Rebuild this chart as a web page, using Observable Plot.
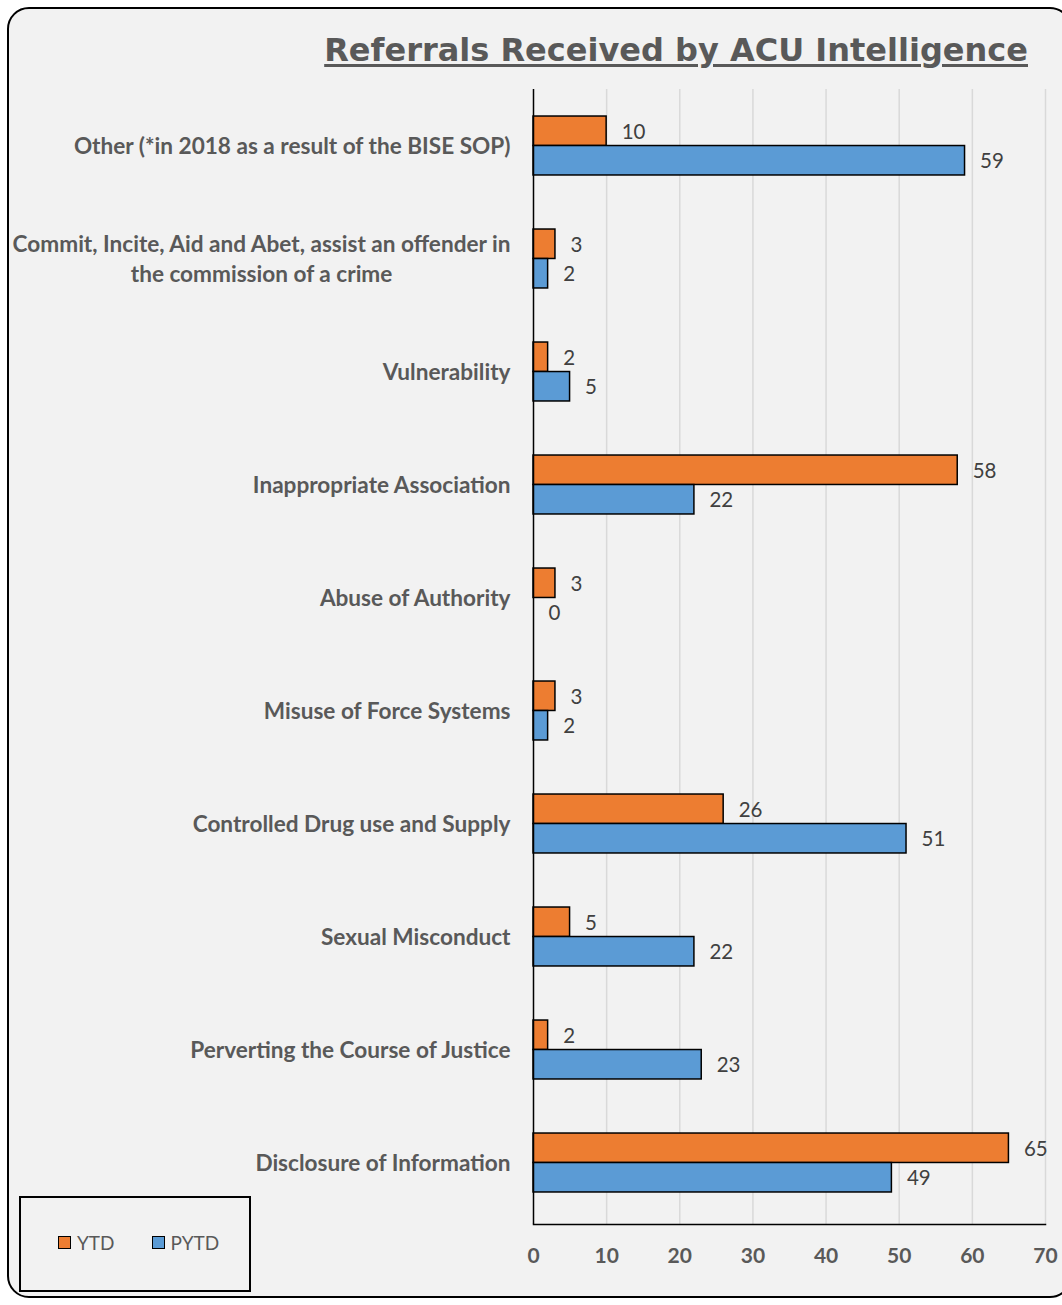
<!DOCTYPE html>
<html>
<head>
<meta charset="utf-8">
<script src="https://cdn.jsdelivr.net/npm/d3@7"></script>
<script src="https://cdn.jsdelivr.net/npm/@observablehq/plot@0.6"></script>
<style>
  html, body { margin: 0; padding: 0; background: #ffffff; }
  #page { position: relative; width: 1062px; height: 1305px; overflow: hidden; background: #ffffff; }
  #panel {
    position: absolute; left: 7px; top: 7px; width: 1065px; height: 1291px;
    box-sizing: border-box; border: 2px solid #000; border-radius: 22px; background: #f2f2f2;
  }
  #title {
    position: absolute; right: 34px; top: 34px;
    font-family: "DejaVu Sans", Verdana, sans-serif; font-weight: bold; font-size: 32px;
    color: #595959; text-decoration: underline; text-decoration-thickness: 3px; text-underline-offset: 3px;
    white-space: nowrap; line-height: 1;
  }
  #chart { position: absolute; left: 0; top: 0; }
  #legend {
    position: absolute; left: 19px; top: 1196px; width: 232px; height: 96px;
    box-sizing: border-box; border: 2px solid #000; background: #f2f2f2;
    display: flex; align-items: center; padding-left: 37px; padding-bottom: 3px;
    font-family: Lato, "Open Sans", sans-serif; font-size: 19px; color: #595959;
  }
  .item { display: flex; align-items: center; margin-right: 37px; }
  .swatch { width: 11px; height: 11px; border: 1.5px solid #000; margin-right: 6px; }
</style>
</head>
<body>
<div id="page">
  <div id="panel"></div>
  <div id="title">Referrals Received by ACU Intelligence</div>
  <div id="chart"></div>
  <div id="legend"></div>
</div>
<script>
// Referral categories, top to bottom
const categories = [
  "Other (*in 2018 as a result of the BISE SOP)",
  "Commit, Incite, Aid and Abet, assist an offender in\nthe commission of a crime",
  "Vulnerability",
  "Inappropriate Association",
  "Abuse of Authority",
  "Misuse of Force Systems",
  "Controlled Drug use and Supply",
  "Sexual Misconduct",
  "Perverting the Course of Justice",
  "Disclosure of Information"
];
// Year to date and previous year to date counts
const ytd  = [10, 3, 2, 58, 3, 3, 26, 5, 2, 65];
const pytd = [59, 2, 5, 22, 0, 2, 51, 22, 23, 49];
const seriesNames = ["YTD", "PYTD"];
const seriesColors = ["#ED7D31", "#5B9BD5"];
const xTicks = [0, 10, 20, 30, 40, 50, 60, 70];

const ytdRows = categories.map((c, i) => ({category: c, series: seriesNames[0], value: ytd[i]}));
const pytdRows = categories.map((c, i) => ({category: c, series: seriesNames[1], value: pytd[i]}));

const W = 1062, H = 1300;
const mTop = 89, mBottom = 76, mLeft = 533, mRight = 17;
const yInsetTop = 0, yInsetBottom = 4.5;
const band = (H - mTop - mBottom - yInsetTop - yInsetBottom) / categories.length;
const barH = 29.5;
const halfGap = band / 2 - barH;

const labelFont = "Lato, 'Open Sans', sans-serif";

const chart = Plot.plot({
  width: W,
  height: H,
  marginTop: mTop,
  marginBottom: mBottom,
  marginLeft: mLeft,
  marginRight: mRight,
  style: {background: "transparent", fontFamily: labelFont, overflow: "visible"},
  x: {domain: [0, 70], ticks: xTicks},
  y: {domain: categories, padding: 0, insetTop: yInsetTop, insetBottom: yInsetBottom},
  marks: [
    Plot.gridX(xTicks.filter(t => t > 0), {stroke: "#d9d9d9", strokeOpacity: 1, strokeWidth: 1.5}),
    Plot.barX(ytdRows, {
      x: "value", y: "category", fill: seriesColors[0],
      stroke: "#000", strokeWidth: 1.5,
      insetTop: halfGap, insetBottom: band / 2
    }),
    Plot.barX(pytdRows.filter(d => d.value > 0), {
      x: "value", y: "category", fill: seriesColors[1],
      stroke: "#000", strokeWidth: 1.5,
      insetTop: band / 2, insetBottom: halfGap
    }),
    Plot.text(ytdRows, {
      x: "value", y: "category", text: d => String(d.value),
      dx: 15, dy: -barH / 2 + 1, textAnchor: "start",
      fill: "#404040", fontSize: 20.5, fontFamily: labelFont
    }),
    Plot.text(pytdRows, {
      x: "value", y: "category", text: d => String(d.value),
      dx: 15, dy: barH / 2 + 1, textAnchor: "start",
      fill: "#404040", fontSize: 20.5, fontFamily: labelFont
    }),
    Plot.ruleX([0], {stroke: "#000", strokeWidth: 1.5}),
    Plot.frame({anchor: "bottom", stroke: "#000", strokeWidth: 1.5}),
    Plot.axisX({
      ticks: xTicks, tickSize: 0, tickPadding: 24, label: null,
      fontSize: 21, fontWeight: "bold", fill: "#595959"
    }),
    Plot.axisY({
      tickSize: 0, tickPadding: 23, label: null, dy: -1.5,
      fontSize: 22.6, fontWeight: "bold", fill: "#595959", lineHeight: 1.3
    })
  ]
});

document.getElementById("chart").appendChild(chart);

// Multi-line category labels are centred on their own block, right-aligned against the axis
chart.querySelectorAll("text").forEach(t => {
  const spans = t.querySelectorAll("tspan");
  if (spans.length > 1) {
    const w = t.getBBox().width;
    t.setAttribute("text-anchor", "middle");
    const tr = t.getAttribute("transform") || "";
    t.setAttribute("transform", tr + ` translate(${-w / 2},0)`);
  }
});

// Legend
const legend = document.getElementById("legend");
seriesNames.forEach((name, i) => {
  const item = document.createElement("div");
  item.className = "item";
  const sw = document.createElement("span");
  sw.className = "swatch";
  sw.style.background = seriesColors[i];
  const label = document.createElement("span");
  label.textContent = name;
  item.appendChild(sw);
  item.appendChild(label);
  legend.appendChild(item);
});
</script>
</body>
</html>
